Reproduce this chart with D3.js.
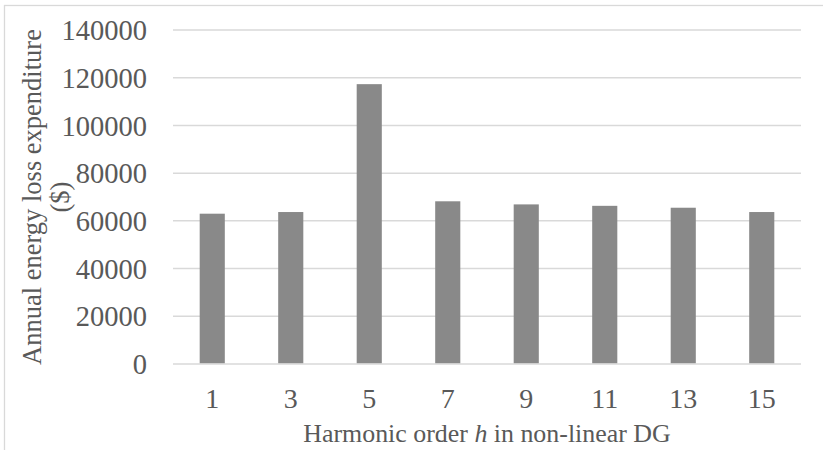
<!DOCTYPE html>
<html>
<head>
<meta charset="utf-8">
<script src="https://cdn.jsdelivr.net/npm/d3@7"></script>
<style>
	body { margin: 0; background: #fff; }
	text { font-family: "Liberation Serif", "Times New Roman", serif; fill: #595959; }
</style>
</head>
<body>
<svg id="chart" width="823" height="450"></svg>
<script>
// harmonic orders on the x axis
const harmonics = ["1", "3", "5", "7", "9", "11", "13", "15"];
// annual energy loss expenditure ($)
const expenditure = [63000, 63700, 117300, 68200, 66900, 66300, 65500, 63700];
const yTicks = [0, 20000, 40000, 60000, 80000, 100000, 120000, 140000];

const margin = {top: 30, right: 22, bottom: 86, left: 173};
const width = 823, height = 450;

let svg = d3.select('#chart');

// outer frame of the chart area
svg.append('rect')
	.attr('x', 4.5)
	.attr('y', 5.5)
	.attr('width', 840)
	.attr('height', 470)
	.style('fill', 'none')
	.style('stroke', '#d9d9d9')
	.style('stroke-width', 1.3);

const x = d3.scaleBand()
	.domain(harmonics)
	.range([margin.left, width - margin.right])
	.paddingInner(0.68)
	.paddingOuter(0.34);

const y = d3.scaleLinear()
	.domain([0, 140000])
	.range([height - margin.bottom, margin.top]);

// gridlines
svg.append('g')
	.selectAll('line')
	.data(yTicks)
	.enter()
	.append('line')
	.attr('x1', margin.left)
	.attr('x2', width - margin.right)
	.attr('y1', d => y(d))
	.attr('y2', d => y(d))
	.style('stroke', '#d9d9d9')
	.style('stroke-width', 1.5);

// bars
svg.append('g')
	.selectAll('rect')
	.data(expenditure)
	.enter()
	.append('rect')
	.attr('x', (d, i) => x(harmonics[i]))
	.attr('y', d => y(d))
	.attr('width', x.bandwidth())
	.attr('height', d => y(0) - y(d) - 0.8)
	.style('fill', '#898989');

// y axis labels
const yAxis = svg.append('g')
	.attr('transform', 'translate(147,0)')
	.call(d3.axisLeft(y).tickValues(yTicks).tickSize(0).tickPadding(0).tickFormat(d3.format('d')));
yAxis.select('.domain').remove();
yAxis.selectAll('text').style('font-size', '28.5px').attr('dy', '0.34em');

// x axis labels
const xAxis = svg.append('g')
	.attr('transform', 'translate(0,' + (height - margin.bottom) + ')')
	.call(d3.axisBottom(x).tickSize(0).tickPadding(0));
xAxis.select('.domain').remove();
xAxis.selectAll('text').style('font-size', '28px').attr('dy', null).attr('y', 44);

// x title
const xTitle = svg.append('text')
	.attr('x', (margin.left + width - margin.right) / 2)
	.attr('y', 442)
	.attr('text-anchor', 'middle')
	.style('font-size', '25.9px');
xTitle.append('tspan').text('Harmonic order ');
xTitle.append('tspan').style('font-style', 'italic').text('h');
xTitle.append('tspan').text(' in non-linear DG');

// y title, two lines
const yTitle = svg.append('text')
	.attr('transform', 'translate(0,' + (margin.top + height - margin.bottom) / 2 + ') rotate(-90)')
	.attr('text-anchor', 'middle')
	.style('font-size', '26.5px');
yTitle.append('tspan').attr('x', 0).attr('y', 41).text('Annual energy loss expenditure');
yTitle.append('tspan').attr('x', 0).attr('y', 69).text('($)');
</script>
</body>
</html>
